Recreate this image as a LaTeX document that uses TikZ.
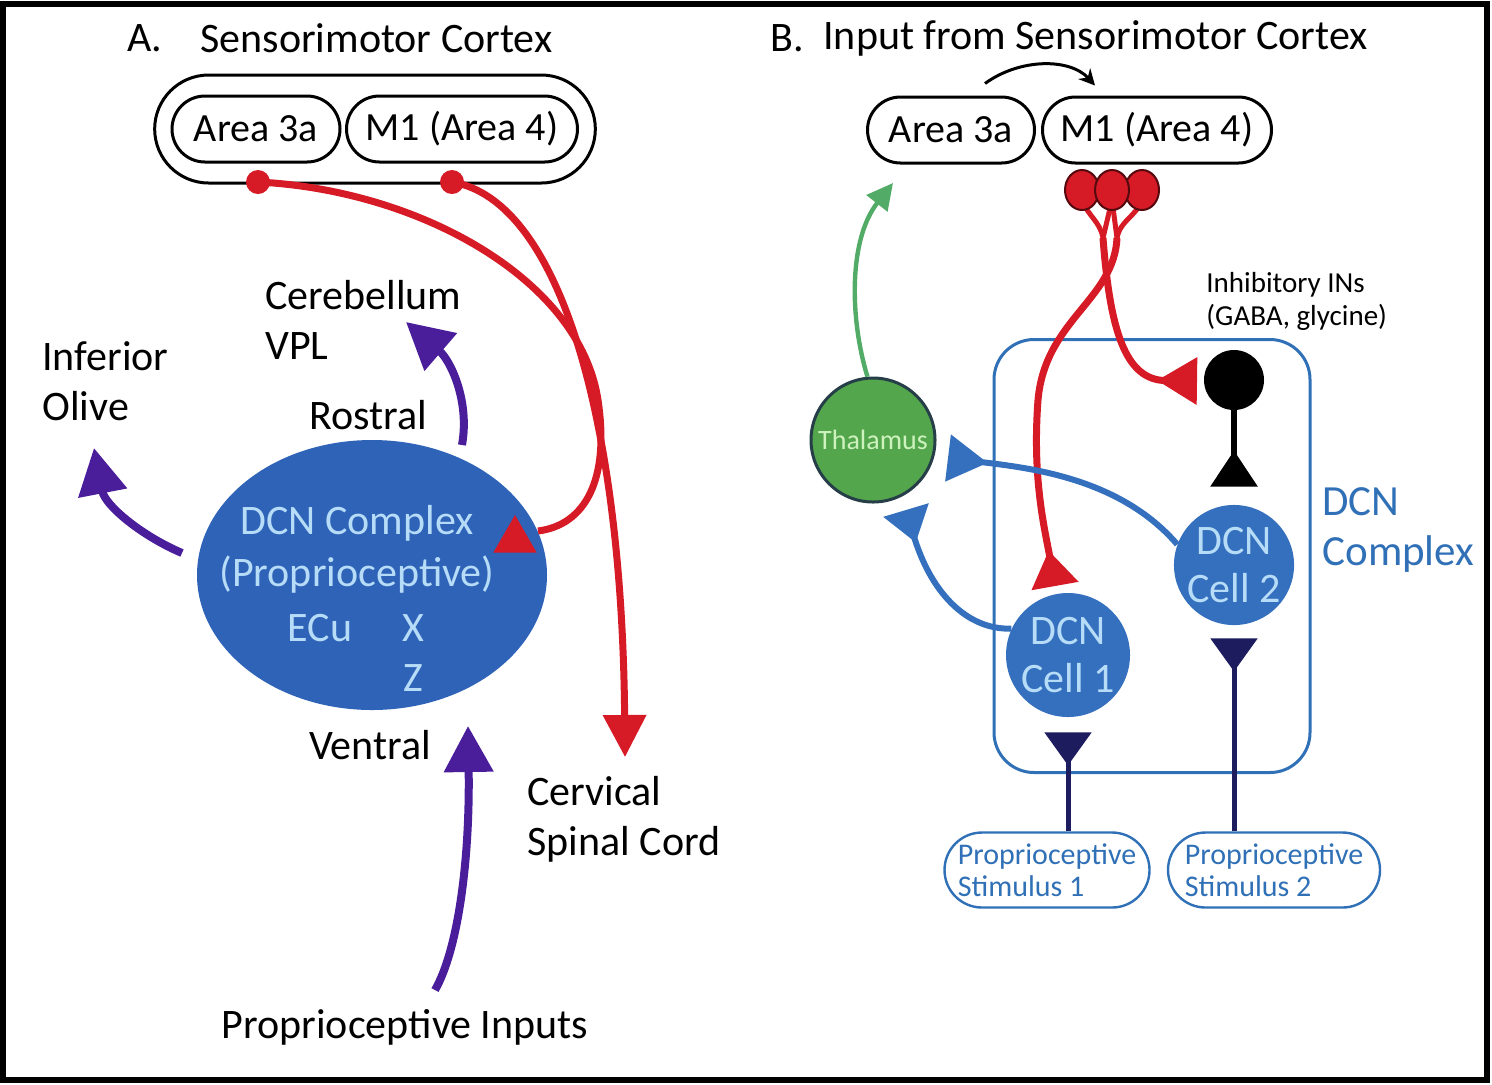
\documentclass[tikz,border=0pt]{standalone}
\usepackage{fontspec}
\setmainfont{Carlito}
\usetikzlibrary{positioning,arrows.meta,shapes.misc,shapes.geometric}
\definecolor{dcnblue}{RGB}{46,99,184}
\definecolor{cellblue}{RGB}{52,112,190}
\definecolor{paleblue}{RGB}{182,220,248}
\definecolor{axonred}{RGB}{214,26,38}
\definecolor{projpurple}{RGB}{74,30,155}
\definecolor{navyaxon}{RGB}{28,28,95}
\definecolor{thalgreen}{RGB}{84,166,76}
\definecolor{thalline}{RGB}{38,62,72}
\definecolor{arrowgreen}{RGB}{82,172,104}
\definecolor{palegreen}{RGB}{205,242,190}
\definecolor{boxblue}{RGB}{48,112,182}

\begin{document}
\begin{tikzpicture}[x=0.5pt,y=-0.5pt,
                    titlenode/.style={inner sep=0pt, font=\fontsize{21}{25}\selectfont},
                    labelnode/.style={inner sep=0pt, align=left, font=\fontsize{21}{25}\selectfont},
                    areanode/.style={rounded rectangle, draw=black, line width=1.5pt, minimum height=33pt, inner sep=0pt, font=\fontsize{20}{24}\selectfont},
                    cellnode/.style={circle, fill=cellblue, text=paleblue, align=center, inner sep=0pt, font=\fontsize{21}{24}\selectfont},
                    stimnode/.style={rounded rectangle, draw=boxblue, text=boxblue, line width=1.2pt, align=left, minimum height=37.5pt, inner sep=0pt, font=\fontsize{15}{16}\selectfont},
                    blobnode/.style={ellipse, fill=axonred, draw=black!60!axonred, line width=1pt, minimum width=17pt, minimum height=20pt, inner sep=0pt},
                    redaxon/.style={draw=axonred, line width=3.5pt},
                    purpleaxon/.style={draw=projpurple, line width=4pt, -{Triangle[length=23pt,width=24pt]}},
                    synapse/.style={-{Triangle[reversed,length=#1,width=23pt]}},
                    synapse/.default=18pt]
    \useasboundingbox (0,0) rectangle (1492,1084);
    \draw[line width=3pt] (3,4) rectangle (1487,1080);

    % A. Sensorimotor Cortex
    \node[titlenode] (labelA) at (145,38) {A.};
    \node[titlenode, anchor=west] (titleA) at (200,38) {Sensorimotor Cortex};
    \node[rounded rectangle, draw=black, line width=1.5pt, minimum width=227pt, minimum height=54pt] (cortexA) at (375,129) {};
    \node[areanode, minimum width=84pt] (area3aA) at (256,129) {Area 3a};
    \node[areanode, minimum width=115.5pt] (m1A) at (462,129) {M1 (Area 4)};
    \node[ellipse, fill=dcnblue, minimum width=175pt, minimum height=135pt] (dcnA) at (372,575) {};
    \node[labelnode, text=paleblue] (dcnname) at (357,523) {DCN Complex};
    \node[labelnode, text=paleblue] (dcntype) at (357,575) {(Proprioceptive)};
    \node[labelnode, text=paleblue] (ecu) at (320,628) {ECu};
    \node[labelnode, text=paleblue] (xnuc) at (413,628) {X};
    \node[labelnode, text=paleblue] (znuc) at (413,678) {Z};
    \node[labelnode, anchor=west] (olive) at (42,381) {Inferior\\Olive};
    \node[labelnode, anchor=west] (cerebellum) at (265,320) {Cerebellum\\VPL};
    \node[labelnode] (rostral) at (368,415) {Rostral};
    \node[labelnode] (ventral) at (370,745) {Ventral};
    \node[labelnode, anchor=west] (spinal) at (527,819) {Cervical\\Spinal Cord};
    \node[labelnode] (inputs) at (405,1027) {Proprioceptive Inputs};

    \coordinate (olivefrom) at (182,553);
    \coordinate (oliveto) at (94,448);
    \coordinate (cbfrom) at (462,445);
    \coordinate (cbto) at (406,322);
    \coordinate (inputfrom) at (435,990);
    \coordinate (inputto) at (468,726);
    \draw[purpleaxon] (olivefrom) .. controls (140,535) and (105,505) .. (oliveto);
    \draw[purpleaxon] (cbfrom) .. controls (470,400) and (450,360) .. (cbto);
    \draw[purpleaxon] (inputfrom) .. controls (458,950) and (470,860) .. (inputto);

    \coordinate (dcnin) at (538,531);
    \coordinate (spinalto) at (625,757);
    \draw[redaxon] (258,182) .. controls (420,190) and (580,280) .. (598,400) .. controls (610,480) and (585,525) .. (dcnin);
    \draw[redaxon, -{Triangle[length=21pt,width=21pt]}] (452,182) .. controls (560,200) and (622,420) .. (spinalto);
    \node[circle, fill=axonred, minimum size=12pt, inner sep=0pt] (dot3a) at (258,182) {};
    \node[circle, fill=axonred, minimum size=12pt, inner sep=0pt] (dotm1) at (452,182) {};
    \node[regular polygon, regular polygon sides=3, fill=axonred, minimum size=25pt, inner sep=0pt] (dcnsyn) at (515,540) {};

    % B. Input from Sensorimotor Cortex
    \node[titlenode] (labelB) at (787,38) {B.};
    \node[titlenode, anchor=west] (titleB) at (823,38) {Input from Sensorimotor Cortex};
    \node[areanode, minimum width=83.5pt] (area3aB) at (951,130) {Area 3a};
    \node[areanode, minimum width=114.5pt] (m1B) at (1157,130) {M1 (Area 4)};
    \draw[line width=1.5pt, -{Stealth[length=8pt,width=8pt]}] ([xshift=17pt,yshift=6pt]area3aB.north) .. controls (1020,58) and (1070,58) .. ([xshift=-31pt,yshift=5pt]m1B.north);

    \node[draw=boxblue, line width=1.5pt, rounded corners=20pt, minimum width=158pt, minimum height=216.5pt] (complexbox) at (1152,556) {};
    \node[labelnode, anchor=west, text=boxblue, font=\fontsize{21.5}{25}\selectfont] (complexlabel) at (1322,530) {DCN\\Complex};
    \node[labelnode, anchor=west, font=\fontsize{14.5}{16.5}\selectfont] (inlabel) at (1206,301) {Inhibitory INs\\(GABA, glycine)};

    \node[circle, fill=thalgreen, draw=thalline, line width=1.5pt, minimum size=62pt, inner sep=0pt, text=palegreen, font=\fontsize{14}{16}\selectfont] (thal) at (873,440) {Thalamus};
    \node[circle, fill=black, minimum size=30pt, inner sep=0pt] (inhib) at (1234,380) {};
    \node[cellnode, minimum size=57pt] (cell2) at (1234,565) {DCN\\Cell 2};
    \node[cellnode, minimum size=62pt] (cell1) at (1068,655) {DCN\\Cell 1};
    \node[stimnode, minimum width=102.5pt] (stim1) at (1047,870) {Proprioceptive\\Stimulus 1};
    \node[stimnode, minimum width=106pt] (stim2) at (1274,870) {Proprioceptive\\Stimulus 2};

    \coordinate (joinleft) at (1103,238);
    \coordinate (joinright) at (1117,238);
    \coordinate (cell1in) at (1055,586);
    \coordinate (inhibin) at (1197,381);
    \draw[redaxon, line width=2.5pt] (1082,200) to[out=-70,in=100] (joinleft);
    \draw[redaxon, line width=2.5pt] (1112,200) -- (joinleft);
    \draw[redaxon, line width=2.5pt] (1112,200) -- (joinright);
    \draw[redaxon, line width=2.5pt] (1142,200) to[out=-110,in=80] (joinright);
    \node[blobnode] (blob1) at (1082,190) {};
    \node[blobnode] (blob3) at (1142,190) {};
    \node[blobnode] (blob2) at (1112,190) {};
    \draw[redaxon, synapse=18pt] (joinright) .. controls (1114,300) and (1045,320) .. (1038,400) .. controls (1032,480) and (1045,530) .. (cell1in);
    \draw[redaxon, synapse=20pt] (joinleft) .. controls (1110,330) and (1125,380) .. (inhibin);

    \draw[line width=3pt, synapse=18pt, shorten >=9pt] (inhib) -- (cell2);
    \draw[navyaxon, line width=2.5pt, synapse=16.5pt, shorten >=7.5pt] (stim1.north -| cell1) -- (cell1);
    \draw[navyaxon, line width=2.5pt, synapse=16.5pt, shorten >=6.5pt] (stim2.north -| cell2) -- (cell2);

    \coordinate (thalin1) at (948,458);
    \coordinate (thalin2) at (906,510);
    \draw[cellblue, line width=3pt, synapse=20pt] (cell2.160) .. controls (1120,478) and (1030,468) .. (thalin1);
    \draw[cellblue, line width=3pt, synapse=17pt] (cell1.155) .. controls (965,630) and (930,590) .. (thalin2);
    \coordinate (cortexin) at (893,183);
    \draw[arrowgreen, line width=2.2pt, -{Triangle[length=13pt,width=13pt]}] (thal.95) .. controls (850,320) and (848,240) .. (cortexin);
\end{tikzpicture}
\end{document}
